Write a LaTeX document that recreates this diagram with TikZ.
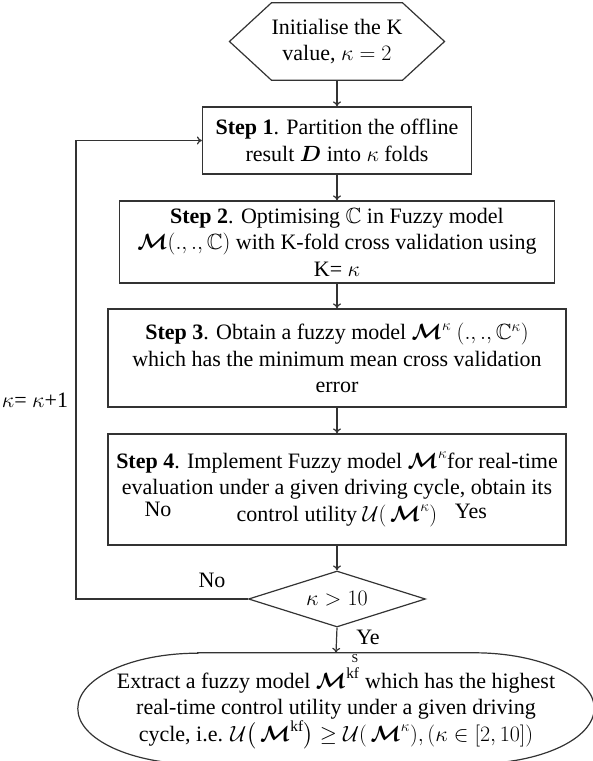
\RequirePackage{fix-cm}
\documentclass[tikz,border=0pt]{standalone}
\usepackage{amsmath,amssymb,bm}
\usepackage{fontspec}
\setmainfont{Liberation Serif}
\usetikzlibrary{shapes.geometric,calc,arrows.meta}
\begin{document}
\begin{tikzpicture}[x=1pt,y=1pt,
  line/.style={draw=black!80,line width=1.2pt},
  arr/.style={line,-{To[length=5pt,width=8pt]}},
  txt/.style={font=\fontsize{22}{26.5}\selectfont,align=center,inner sep=0pt},
  stepbox/.style={txt,line,rectangle},
  lbl/.style={font=\fontsize{22}{26.5}\selectfont,inner sep=0pt}
]
\useasboundingbox (0,0) rectangle (593,761);
\clip (0,0) rectangle (593,761);

% hexagon start
\node[txt,minimum width=130pt,minimum height=77pt] (init) at (337,719.5)
  {Initialise the K\\ value, $\kappa=2$};
\draw[line] (init.north west) -- (init.north east) -- ($(init.east)+(42,0)$)
  -- (init.south east) -- (init.south west) -- ($(init.west)+(-42,0)$) -- cycle;

\node[stepbox,minimum width=269pt,minimum height=67pt] (s1) at (337,620.5)
  {\textbf{Step 1}. Partition the offline\\ result $\bm{D}$ into $\kappa$ folds};

\node[stepbox,minimum width=435pt,minimum height=82pt] (s2) at (337,519)
  {\textbf{Step 2}. Optimising $\mathbb{C}$ in Fuzzy model\\
   $\bm{\mathcal{M}}(.,.,\mathbb{C})$ with K-fold cross validation using\\ K= $\kappa$};

\node[stepbox,minimum width=458pt,minimum height=98pt] (s3) at (337,403)
  {\textbf{Step 3}. Obtain a fuzzy model $\bm{\mathcal{M}}^{\kappa}\ (.,.,\mathbb{C}^{\kappa})$\\
   which has the minimum mean cross validation\\ error};

\node[stepbox,minimum width=458pt,minimum height=111pt] (s4) at (337,271.5)
  {\textbf{Step 4}. Implement Fuzzy model $\bm{\mathcal{M}}^{\kappa}$for real-time\\
   evaluation under a given driving cycle, obtain its\\
   control utility $\mathcal{U}(\,\bm{\mathcal{M}}^{\kappa})$};

\node[diamond,line,txt,minimum width=177pt,minimum height=56pt,aspect=3] (dec) at (337,162)
  {$\kappa>10$};

% terminal
\node[txt,minimum width=516pt,minimum height=111pt] (term) at (336,52.5)
  {Extract a fuzzy model $\bm{\mathcal{M}}^{\mathrm{kf}}$ which has the highest\\
   real-time control utility under a given driving\\
   cycle, i.e. $\mathcal{U}\big(\,\bm{\mathcal{M}}^{\mathrm{kf}}\big)\geq\mathcal{U}(\,\bm{\mathcal{M}}^{\kappa}),(\kappa\in[2,10])$};
\draw[line] ($(term.north west)+(120,0)$) -- ($(term.north east)+(-120,0)$)
  arc[start angle=90,end angle=-90,x radius=120pt,y radius=55.5pt]
  -- ($(term.south west)+(120,0)$)
  arc[start angle=270,end angle=90,x radius=120pt,y radius=55.5pt] -- cycle;

% connectors
\draw[arr] (init.south) -- (s1.north);
\draw[arr] (s1.south) -- (s2.north);
\draw[arr] (s2.south) -- (s3.north);
\draw[arr] (s3.south) -- (s4.north);
\draw[arr] (s4.south) -- (dec.north);
\draw[arr] (dec.south) -- (term.north);
\coordinate (lp) at (76,162);
\draw[arr] (dec.west) -- (lp) |- (s1.west);

% labels
\node[lbl] (kinc) at (35,361) {$\kappa$= $\kappa$+1};
\node[lbl] (no1) at (158,252) {No};
\node[lbl] (yes1) at (471,250) {Yes};
\node[lbl] (no2) at (212,181) {No};
\node[lbl] (ye) at (368,124) {Ye};
\node[font=\fontsize{12}{14}\selectfont,inner sep=0pt] (sl) at (355,102.5) {S};
\end{tikzpicture}
\end{document}
